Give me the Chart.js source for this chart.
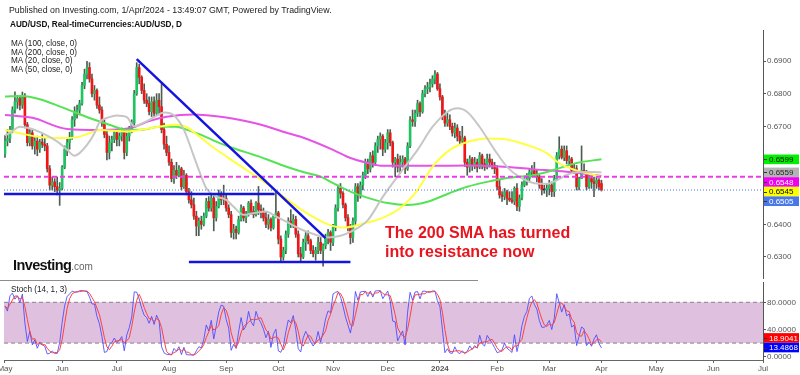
<!DOCTYPE html>
<html>
<head>
<meta charset="utf-8">
<script src="https://cdn.jsdelivr.net/npm/chart.js@4.4.1/dist/chart.umd.min.js"></script>
<style>
  html, body { margin: 0; padding: 0; background: #fff; }
  #wrap { position: relative; width: 800px; height: 375px; overflow: hidden; font-family: "Liberation Sans", Arial, sans-serif; }
  canvas { position: absolute; left: 0; }
  #price { top: 0; width: 800px; height: 280px; }
  #stoch { top: 280px; width: 800px; height: 95px; }
  .t { position: absolute; white-space: nowrap; color: #222; font-size: 8.2px; line-height: 10px; }
</style>
</head>
<body>
<div id="wrap">
  <canvas id="price" width="800" height="280"></canvas>
  <canvas id="stoch" width="800" height="95"></canvas>

  <div class="t" style="left:9px;top:5px;font-size:8.8px;">Published on Investing.com, 1/Apr/2024 - 13:49:07 GMT, Powered by TradingView.</div>
  <div class="t" style="left:10px;top:20px;font-weight:bold;color:#111;">AUD/USD, Real-timeCurrencies:AUD/USD, D</div>
  <div class="t" style="left:11px;top:40px;line-height:8.7px;">MA (100, close, 0)<br>MA (200, close, 0)<br>MA (20, close, 0)<br>MA (50, close, 0)</div>
  <div class="t" style="left:13px;top:256px;font-size:14.5px;line-height:18px;font-weight:bold;color:#111;letter-spacing:-0.6px;">Investing<span style="font-weight:normal;font-size:10px;color:#666;letter-spacing:0;">.com</span></div>
  <div class="t" style="left:385px;top:223px;font-size:16px;line-height:19px;font-weight:bold;color:#e8141e;">The 200 SMA has turned<br>into resistance now</div>
  <div style="position:absolute;left:0;top:280px;width:478px;height:1px;background:#8c8c8c;"></div>
  <div class="t" style="left:11px;top:285px;">Stoch (14, 1, 3)</div>
</div>

<script>
  /* ---------- daily candles, 1 May 2023 .. 1 Apr 2024 (bar index = trading day) ---------- */
  const opens = [
    .6615,.6655,.6662,.6690,.6750,.6775,.6785,.6765,.6790,.6705,.6650,.6680,.6640,.6655,.6630,.6652,.6645,.6640,.6570,.6520,.6530,.6515,.6505,
    .6510,.6575,.6630,.6650,.6665,.6720,.6745,.6750,.6770,.6825,.6860,.6880,.6845,.6800,.6810,.6765,.6750,.6710,.6675,.6620,.6650,.6660,
    .6680,.6660,.6670,.6685,.6620,.6670,.6690,.6710,.6800,.6880,.6850,.6810,.6780,.6770,.6745,.6775,.6740,.6780,.6760,.6690,.6645,
    .6620,.6590,.6540,.6565,.6550,.6570,.6515,.6550,.6500,.6475,.6460,.6425,.6395,.6410,.6400,.6425,.6470,.6450,.6480,.6420,.6455,.6490,.6475,
    .6480,.6450,.6430,.6375,.6385,.6375,.6415,.6450,.6420,.6430,.6465,.6440,.6430,.6465,.6445,.6435,.6420,.6400,.6415,.6390,.6425,
    .6435,.6355,.6300,.6320,.6370,.6410,.6400,.6415,.6370,.6310,.6300,.6345,.6365,.6350,.6320,.6310,.6320,.6345,.6320,.6335,.6360,.6375,
    .6345,.6390,.6450,.6510,.6495,.6460,.6420,.6390,.6360,.6410,.6515,.6490,.6520,.6550,.6590,.6570,.6610,.6590,.6640,.6660,.6670,.6630,
    .6650,.6680,.6650,.6590,.6600,.6575,.6590,.6600,.6570,.6640,.6720,.6715,.6740,.6770,.6745,.6800,.6815,.6820,.6830,.6845,.6860,
    .6815,.6790,.6730,.6710,.6720,.6700,.6680,.6695,.6670,.6655,.6665,.6590,.6575,.6600,.6580,.6590,.6575,.6610,.6585,.6575,.6600,.6590,.6580,
    .6570,.6515,.6490,.6485,.6500,.6480,.6475,.6470,.6510,.6455,.6480,.6520,.6535,.6540,.6560,.6565,.6555,.6545,.6520,.6505,.6505,
    .6510,.6520,.6500,.6540,.6610,.6630,.6605,.6625,.6595,.6600,.6565,.6570,.6515,.6540,.6565,.6560,.6515,.6540,.6530,.6525,.6535,.6525
  ];
  const highs = [
    .6672,.6690,.6700,.6760,.6806,.6795,.6790,.6805,.6800,.6712,.6690,.6688,.6665,.6670,.6660,.6675,.6665,.6648,.6580,.6545,.6540,.6545,.6528,
    .6580,.6640,.6660,.6682,.6730,.6760,.6765,.6780,.6835,.6875,.6899,.6895,.6860,.6825,.6815,.6790,.6760,.6720,.6690,.6670,.6670,.6690,
    .6690,.6680,.6695,.6690,.6680,.6700,.6720,.6810,.6895,.6890,.6855,.6830,.6800,.6790,.6790,.6790,.6800,.6800,.6830,.6710,.6670,
    .6640,.6600,.6580,.6590,.6580,.6575,.6565,.6555,.6510,.6500,.6480,.6440,.6420,.6425,.6435,.6480,.6485,.6495,.6490,.6470,.6505,.6500,.6520,
    .6490,.6460,.6440,.6400,.6395,.6425,.6460,.6455,.6440,.6470,.6475,.6455,.6470,.6516,.6460,.6450,.6440,.6430,.6420,.6430,.6500,
    .6440,.6365,.6330,.6380,.6420,.6445,.6430,.6425,.6380,.6330,.6355,.6375,.6380,.6355,.6335,.6330,.6360,.6360,.6340,.6370,.6385,.6380,
    .6400,.6460,.6520,.6525,.6500,.6465,.6430,.6400,.6420,.6525,.6525,.6530,.6560,.6600,.6600,.6620,.6625,.6650,.6670,.6680,.6675,.6660,
    .6690,.6690,.6655,.6605,.6615,.6610,.6610,.6605,.6650,.6730,.6750,.6750,.6780,.6775,.6810,.6825,.6835,.6845,.6855,.6871,.6865,
    .6830,.6795,.6750,.6740,.6735,.6710,.6710,.6705,.6685,.6700,.6670,.6600,.6610,.6605,.6605,.6600,.6620,.6615,.6600,.6615,.6615,.6600,.6590,
    .6580,.6535,.6500,.6510,.6505,.6500,.6500,.6515,.6525,.6490,.6530,.6545,.6555,.6570,.6580,.6590,.6565,.6550,.6540,.6520,.6525,
    .6535,.6530,.6550,.6620,.6668,.6640,.6640,.6640,.6610,.6605,.6585,.6580,.6545,.6640,.6585,.6565,.6555,.6550,.6545,.6545,.6540,.6535
  ];
  const lows = [
    .6605,.6640,.6650,.6680,.6740,.6755,.6750,.6755,.6695,.6640,.6640,.6630,.6615,.6610,.6620,.6635,.6625,.6560,.6505,.6505,.6500,.6490,.6458,
    .6505,.6570,.6610,.6630,.6660,.6700,.6725,.6735,.6765,.6815,.6845,.6835,.6790,.6780,.6755,.6740,.6700,.6665,.6597,.6600,.6625,.6650,
    .6640,.6640,.6655,.6600,.6610,.6655,.6680,.6700,.6795,.6830,.6800,.6770,.6760,.6735,.6730,.6730,.6735,.6735,.6680,.6630,.6610,
    .6580,.6530,.6525,.6540,.6545,.6505,.6510,.6490,.6465,.6450,.6415,.6365,.6365,.6385,.6395,.6420,.6440,.6440,.6380,.6410,.6450,.6460,.6460,
    .6440,.6420,.6360,.6355,.6355,.6370,.6410,.6410,.6405,.6425,.6430,.6420,.6425,.6430,.6420,.6410,.6390,.6385,.6380,.6385,.6420,
    .6340,.6285,.6290,.6310,.6360,.6390,.6390,.6360,.6300,.6286,.6295,.6320,.6340,.6310,.6300,.6290,.6310,.6310,.6272,.6325,.6340,.6320,
    .6335,.6380,.6440,.6480,.6450,.6410,.6380,.6340,.6345,.6400,.6470,.6480,.6505,.6540,.6555,.6560,.6575,.6580,.6620,.6630,.6610,.6620,
    .6630,.6640,.6575,.6545,.6560,.6555,.6575,.6555,.6565,.6635,.6700,.6700,.6730,.6730,.6740,.6790,.6800,.6805,.6820,.6830,.6810,
    .6780,.6720,.6700,.6700,.6690,.6670,.6665,.6655,.6645,.6650,.6577,.6550,.6560,.6565,.6570,.6560,.6570,.6570,.6565,.6570,.6575,.6570,.6555,
    .6505,.6480,.6470,.6475,.6460,.6470,.6465,.6460,.6442,.6440,.6475,.6515,.6520,.6530,.6545,.6550,.6530,.6510,.6490,.6495,.6485,
    .6490,.6485,.6485,.6535,.6600,.6600,.6595,.6585,.6580,.6555,.6555,.6505,.6505,.6540,.6555,.6505,.6510,.6510,.6485,.6510,.6505,.6502
  ];
  const closes = [
    .6655,.6662,.6690,.6750,.6775,.6785,.6765,.6790,.6705,.6650,.6680,.6640,.6655,.6630,.6652,.6645,.6640,.6570,.6520,.6530,.6515,.6505,.6510,
    .6575,.6630,.6650,.6665,.6720,.6745,.6750,.6770,.6825,.6860,.6880,.6845,.6800,.6810,.6765,.6750,.6710,.6675,.6620,.6650,.6660,.6680,
    .6660,.6670,.6685,.6620,.6670,.6690,.6710,.6800,.6880,.6850,.6810,.6780,.6770,.6745,.6775,.6740,.6780,.6760,.6690,.6645,.6620,
    .6590,.6540,.6565,.6550,.6570,.6515,.6550,.6500,.6475,.6460,.6425,.6395,.6410,.6400,.6425,.6470,.6450,.6480,.6420,.6455,.6490,.6475,.6480,
    .6450,.6430,.6375,.6385,.6375,.6415,.6450,.6420,.6430,.6465,.6440,.6430,.6465,.6445,.6435,.6420,.6400,.6415,.6390,.6425,.6435,
    .6355,.6300,.6320,.6370,.6410,.6400,.6415,.6370,.6310,.6300,.6345,.6365,.6350,.6320,.6310,.6320,.6345,.6320,.6335,.6360,.6375,.6345,
    .6390,.6450,.6510,.6495,.6460,.6420,.6390,.6360,.6410,.6515,.6490,.6520,.6550,.6590,.6570,.6610,.6590,.6640,.6660,.6670,.6630,.6650,
    .6680,.6650,.6590,.6600,.6575,.6590,.6600,.6570,.6640,.6720,.6715,.6740,.6770,.6745,.6800,.6815,.6820,.6830,.6845,.6860,.6815,
    .6790,.6730,.6710,.6720,.6700,.6680,.6695,.6670,.6655,.6665,.6590,.6575,.6600,.6580,.6590,.6575,.6610,.6585,.6575,.6600,.6590,.6580,.6570,
    .6515,.6490,.6485,.6500,.6480,.6475,.6470,.6510,.6455,.6480,.6520,.6535,.6540,.6560,.6565,.6555,.6545,.6520,.6505,.6505,.6510,
    .6520,.6500,.6540,.6610,.6630,.6605,.6625,.6595,.6600,.6565,.6570,.6515,.6540,.6565,.6560,.6515,.6540,.6530,.6525,.6535,.6515,.6505
  ];

  /* ---------- moving averages, read as [bar, value] ---------- */
  const ma200 = [[0,.6735],[11,.6726],[25,.6692],[38,.6689],[51,.6696],[58,.6716],[65,.6729],[76,.6736],[85,.6731],[92,.6723],[103,.6705],[113,.6681],[119,.6668],[132,.6628],[139,.6603],[146,.6588],[152,.6579],[172,.6579],[186,.6580],[199,.6577],[212,.6569],[226,.6561],[240,.6548]];
  const ma100 = [[0,.6791],[7,.6793],[14,.6783],[22,.6761],[29,.6740],[36,.6720],[42,.6705],[49,.6689],[56,.6690],[62,.6699],[69,.6699],[73,.6690],[79,.6674],[85,.6653],[92,.6633],[100,.6613],[105,.6600],[113,.6577],[120,.6560],[127,.6546],[132,.6526],[139,.6500],[146,.6481],[154,.6465],[162,.6459],[170,.6469],[179,.6496],[186,.6515],[194,.6530],[202,.6542],[213,.6551],[221,.6567],[230,.6588],[240,.6599]];
  const ma50 = [[0,.6689],[6,.6679],[14,.6667],[22,.6664],[29,.6667],[34,.6679],[38,.6689],[49,.6684],[56,.6691],[62,.6699],[69,.6705],[73,.6698],[79,.6664],[83,.6640],[89,.6608],[97,.6567],[105,.6526],[112,.6485],[119,.6446],[124,.6423],[130,.6400],[136,.6390],[145,.6404],[152,.6420],[159,.6450],[166,.6505],[172,.6576],[179,.6628],[186,.6652],[194,.6663],[202,.6660],[210,.6643],[218,.6618],[223,.6587],[229,.6567],[237,.6551],[240,.6545]];
  const ma20 = [[0,.6672],[2,.6680],[6,.6699],[10,.6694],[15,.6679],[22,.6648],[25,.6628],[28,.6610],[30,.6618],[33,.6643],[36,.6679],[38,.6712],[42,.6728],[45,.6733],[49,.6728],[52,.6700],[56,.6712],[60,.6728],[64,.6742],[68,.6733],[72,.6689],[76,.6608],[79,.6546],[81,.6510],[85,.6485],[89,.6475],[92,.6454],[96,.6429],[100,.6434],[105,.6439],[109,.6424],[113,.6409],[119,.6385],[125,.6368],[130,.6360],[135,.6365],[139,.6377],[146,.6413],[152,.6484],[159,.6557],[166,.6628],[172,.6698],[178,.6744],[182,.6755],[186,.6744],[191,.6698],[197,.6628],[202,.6576],[207,.6545],[213,.6526],[218,.6524],[222,.6535],[226,.6551],[231,.6560],[237,.6560],[240,.6559]];

  /* ---------- drawings on the chart ---------- */
  const trendLine = [[53, .6906], [129, .6358]];
  const bottomLine = [[74, .6285], [139, .6285]];
  const supportLine = [[-0.4, .6493], [108.5, .6493]];
  const dashedLevel = .6546;
  const lastPrice = .6505;

  /* ---------- axes / labels ---------- */
  const monthIdx = [0, 23, 45, 66, 89, 110, 132, 154, 175, 198, 219, 240, 262, 285, 305];
  const monthLabels = ["May", "Jun", "Jul", "Aug", "Sep", "Oct", "Nov", "Dec", "2024", "Feb", "Mar", "Apr", "May", "Jun", "Jul"];
  const priceTicks = [0.63, 0.64, 0.65, 0.66, 0.67, 0.68, 0.69];
  const stochTicks = [0, 40, 80];
  const stochBand = [20, 80];

  const priceTags = [
    { value: 0.6599, bg: "#00f000", fg: "#000" },
    { value: 0.6559, bg: "#b4b4b4", fg: "#222" },
    { value: 0.6548, bg: "#f000f0", fg: "#fff" },
    { value: 0.6545, bg: "#ffff00", fg: "#000" },
    { value: 0.6505, bg: "#4a78e6", fg: "#fff" }
  ];
  const stochTags = [
    { value: 18.9041, bg: "#ff0000", fg: "#fff" },
    { value: 13.4868, bg: "#0000ff", fg: "#fff" }
  ];

  const xMin = -0.4, xMax = 305;
  const FONT = "'Liberation Sans', Arial, sans-serif";
  Chart.defaults.font.family = FONT;

  const pts = arr => arr.map(p => ({ x: p[0], y: p[1] }));
  const flat = v => [{ x: xMin, y: v }, { x: xMax, y: v }];

  // Stoch (14, 1, 3) from the candles
  const stochK = closes.map((c, i) => {
    const from = Math.max(0, i - 13);
    const hh = Math.max(...highs.slice(from, i + 1));
    const ll = Math.min(...lows.slice(from, i + 1));
    return hh === ll ? 50 : 100 * (c - ll) / (hh - ll);
  });
  const stochD = stochK.map((_, i) => {
    const s = stochK.slice(Math.max(0, i - 2), i + 1);
    return s.reduce((a, b) => a + b, 0) / s.length;
  });

  const candleColor = closes.map((c, i) => c > opens[i] ? "#1fc462" : (c < opens[i] ? "#f01616" : "#222"));

  // price tags on the right axis, pushed apart when they overlap
  const tagPlugin = (tags, dir) => ({
    id: "tags",
    afterDraw(chart) {
      const { ctx, chartArea, scales } = chart;
      const h = 9.6;
      const items = tags.map(t => ({ ...t, py: scales.y.getPixelForValue(t.value) }))
        .sort((a, b) => a.py - b.py);
      if (dir === "down") {
        for (let i = 1; i < items.length; i++) items[i].py = Math.max(items[i].py, items[i - 1].py + h);
      } else {
        for (let i = items.length - 2; i >= 0; i--) items[i].py = Math.min(items[i].py, items[i + 1].py - h);
      }
      ctx.save();
      ctx.font = "8px " + FONT;
      ctx.textBaseline = "middle";
      items.forEach(t => {
        ctx.fillStyle = t.bg;
        ctx.fillRect(chartArea.right + 1, t.py - h / 2, 35, h);
        ctx.fillStyle = "#333";
        ctx.fillRect(chartArea.right + 1, Math.round(t.py), 3, 1);
        ctx.fillStyle = t.fg;
        ctx.fillText(t.value.toFixed(4), chartArea.right + 6, t.py + 0.5);
      });
      ctx.restore();
    }
  });

  const rightAxis = (min, max, ticks) => ({
    position: "right",
    min: min,
    max: max,
    afterFit: s => { s.width = 37; s.paddingTop = 0; s.paddingBottom = 0; },
    afterBuildTicks: s => { s.ticks = ticks.map(v => ({ value: v })); },
    grid: { drawOnChartArea: false, tickLength: 3, color: "#555" },
    border: { color: "#555" },
    ticks: { color: "#555", padding: 1, font: { size: 8 }, callback: v => v.toFixed(4) }
  });

  /* =====================================================
     PRICE PANE
  ===================================================== */
  new Chart(document.getElementById("price"), {
    type: "bar",
    data: {
      datasets: [
        { type: "line", data: pts(trendLine), borderColor: "#1414e0", borderWidth: 2.5, pointRadius: 0, order: 0 },
        { type: "line", data: pts(bottomLine), borderColor: "#1414e0", borderWidth: 2.5, pointRadius: 0, order: 0 },
        { type: "line", data: pts(supportLine), borderColor: "#1414e0", borderWidth: 2.5, pointRadius: 0, order: 0 },
        { type: "line", data: flat(dashedLevel), borderColor: "#ea3cea", borderWidth: 2, borderDash: [5, 3], pointRadius: 0, order: 1 },
        { type: "line", data: flat(lastPrice), borderColor: "#4a78e6", borderWidth: 1, borderDash: [1, 2], pointRadius: 0, order: 1 },
        { type: "line", data: pts(ma20), borderColor: "#c6c6c6", borderWidth: 2, pointRadius: 0, cubicInterpolationMode: "monotone", order: 2 },
        { type: "line", data: pts(ma50), borderColor: "#ffff40", borderWidth: 2, pointRadius: 0, cubicInterpolationMode: "monotone", order: 2 },
        { type: "line", data: pts(ma100), borderColor: "#55e355", borderWidth: 2, pointRadius: 0, cubicInterpolationMode: "monotone", order: 2 },
        { type: "line", data: pts(ma200), borderColor: "#e653e6", borderWidth: 2, pointRadius: 0, cubicInterpolationMode: "monotone", order: 2 },
        {
          data: opens.map((o, i) => ({ x: i, y: [o, closes[i]] })),
          backgroundColor: candleColor, barThickness: 2, minBarLength: 1, grouped: false, order: 5
        },
        {
          data: lows.map((l, i) => ({ x: i, y: [l, highs[i]] })),
          backgroundColor: "#4d5e50", barThickness: 1, grouped: false, order: 6
        }
      ]
    },
    options: {
      responsive: false,
      animation: false,
      events: [],
      layout: { padding: { left: 4, top: 30, right: 0, bottom: 2 } },
      plugins: { legend: { display: false }, tooltip: { enabled: false } },
      scales: {
        x: { type: "linear", min: xMin, max: xMax, offset: false, display: false },
        y: rightAxis(0.62357, 0.69949, priceTicks)
      }
    },
    plugins: [tagPlugin(priceTags, "down")]
  });

  /* =====================================================
     STOCH PANE
  ===================================================== */
  new Chart(document.getElementById("stoch"), {
    type: "line",
    data: {
      datasets: [
        { data: stochD.map((v, i) => ({ x: i, y: v })), borderColor: "#ff4040", borderWidth: 1, pointRadius: 0, order: 0 },
        { data: stochK.map((v, i) => ({ x: i, y: v })), borderColor: "rgba(70,70,255,0.85)", borderWidth: 1, pointRadius: 0, order: 1 },
        { data: flat(stochBand[1]), borderColor: "#8d7d8d", borderWidth: 1, borderDash: [4, 3], pointRadius: 0, fill: false, order: 3 },
        { data: flat(stochBand[0]), borderColor: "#8d7d8d", borderWidth: 1, borderDash: [4, 3], pointRadius: 0, fill: "-1", backgroundColor: "#dfc1df", order: 3 }
      ]
    },
    options: {
      responsive: false,
      animation: false,
      events: [],
      layout: { padding: { left: 4, top: 2, right: 0, bottom: 0 } },
      plugins: { legend: { display: false }, tooltip: { enabled: false } },
      scales: {
        x: {
          type: "linear",
          min: xMin,
          max: xMax,
          offset: false,
          afterFit: s => { s.height = 15; s.paddingLeft = 0; s.paddingRight = 0; },
          afterBuildTicks: s => { s.ticks = monthIdx.map(v => ({ value: v })); },
          grid: { drawOnChartArea: false, tickLength: 3, color: "#666" },
          border: { color: "#666" },
          ticks: {
            autoSkip: false,
            maxRotation: 0,
            color: "#555",
            padding: 1,
            font: ctx => ({ size: 8, weight: monthLabels[ctx.index] === "2024" ? "bold" : "normal" }),
            callback: (v, i) => monthLabels[i]
          }
        },
        y: rightAxis(-4.85, 109.85, stochTicks)
      }
    },
    plugins: [tagPlugin(stochTags, "up")]
  });
</script>
</body>
</html>
